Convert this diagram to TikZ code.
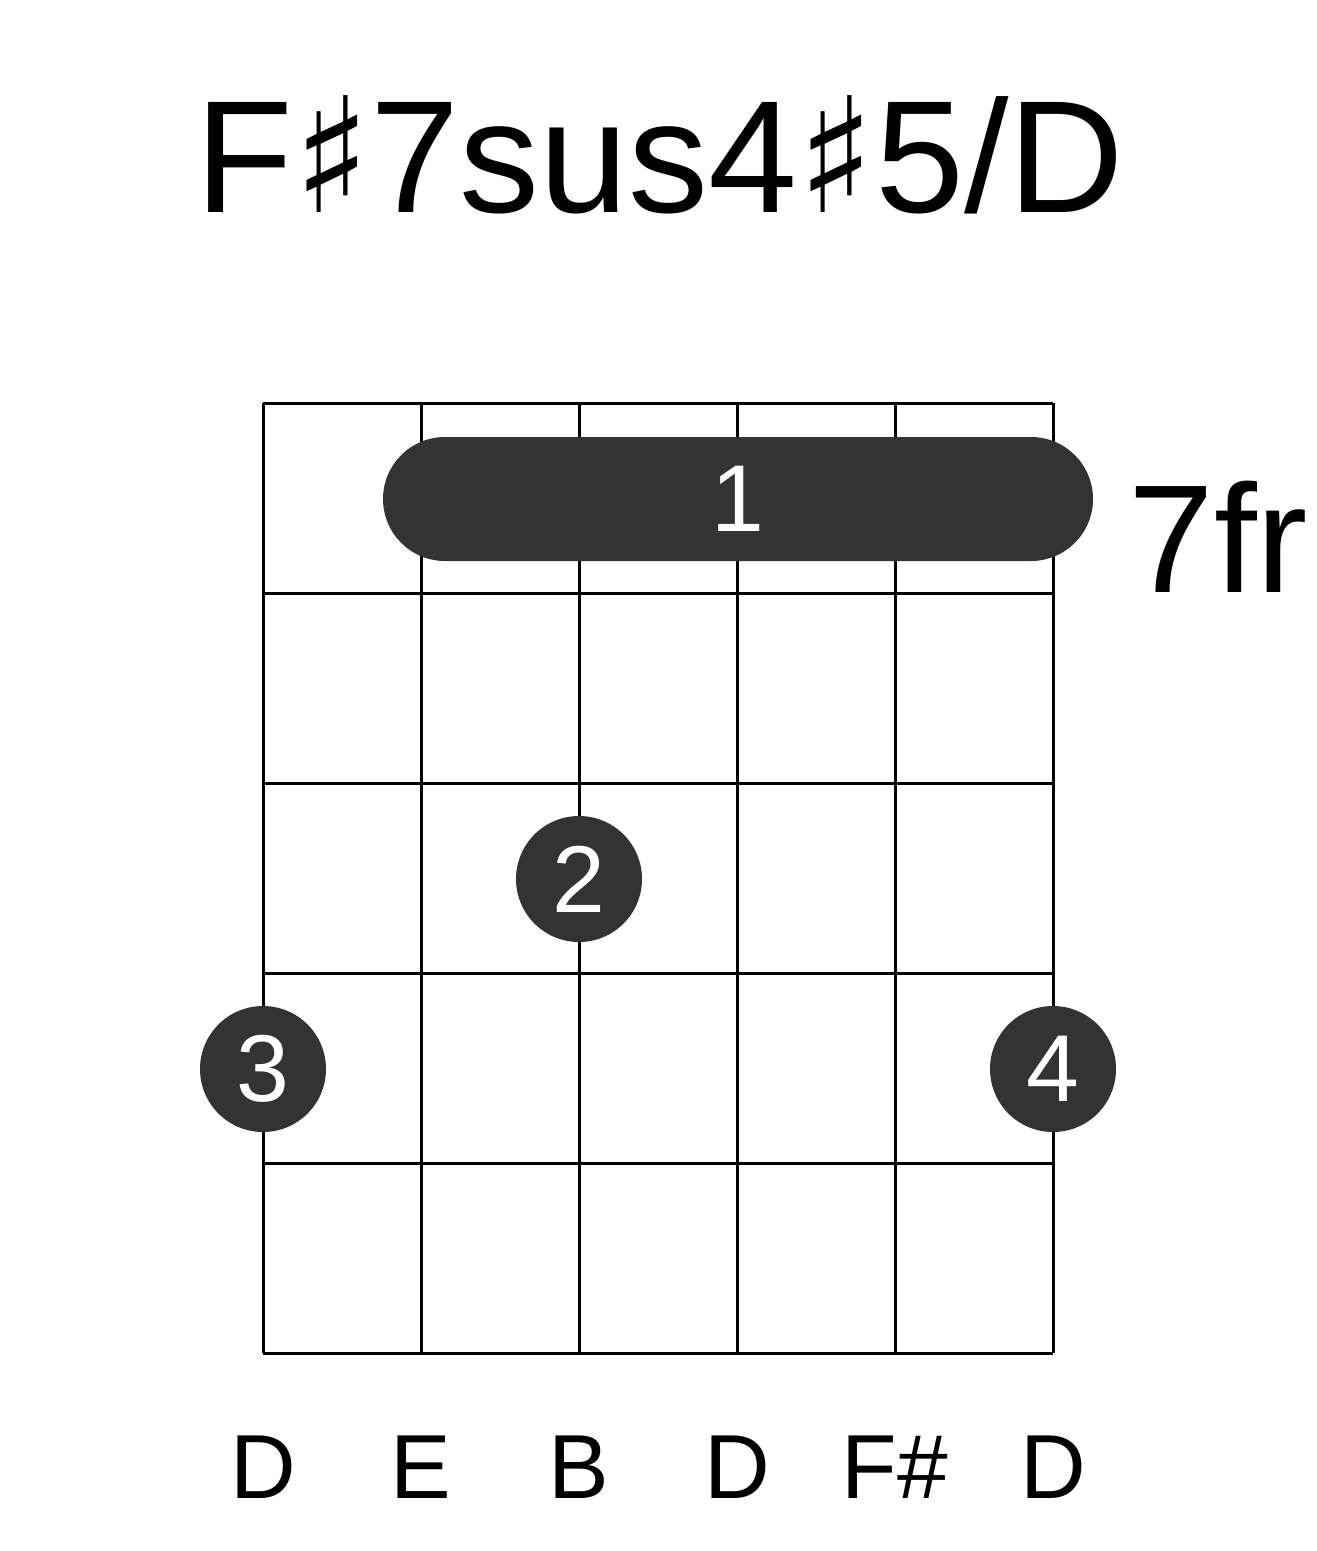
\documentclass[tikz,border=0pt]{standalone}
\usepackage{fontspec}
\setmainfont{Liberation Sans}
\newfontfamily\symf{DejaVu Sans}
\definecolor{dot}{HTML}{333333}
\begin{document}
\begin{tikzpicture}[x=1pt,y=-1pt,
  grid/.style={line width=3pt},
  fing/.style={circle,fill=dot,minimum size=126pt,inner sep=0pt,text=white,font=\fontsize{95}{95}\selectfont},
  lab/.style={font=\fontsize{91}{91}\selectfont}]
\useasboundingbox (0,0) rectangle (1317,1551);
\foreach \x in {263,421,579,737,895,1053} \draw[grid] (\x,403) -- (\x,1353);
\foreach \y in {403,593,783,973,1163,1353} \draw[grid] (263,\y) -- (1053,\y);
\node (title) at (660,155) {\fontsize{160}{160}\selectfont F{\symf ♯}7sus4{\symf ♯}5/D};
\fill[dot,rounded corners=62pt] (383,437) rectangle (1093,561);
\node[text=white,font=\fontsize{95}{95}\selectfont] (b1) at (738,499) {1};
\node[font=\fontsize{154}{154}\selectfont,anchor=west] (fr) at (1125,537) {7fr};
\node[fing] (f2) at (579,879) {2};
\node[fing] (f3) at (263,1069) {3};
\node[fing] (f4) at (1053,1069) {4};
\foreach \x/\t in {263/D,421/E,579/B,737/D,895/F\#,1053/D} \node[lab] at (\x,1467) {\t};
\end{tikzpicture}
\end{document}
